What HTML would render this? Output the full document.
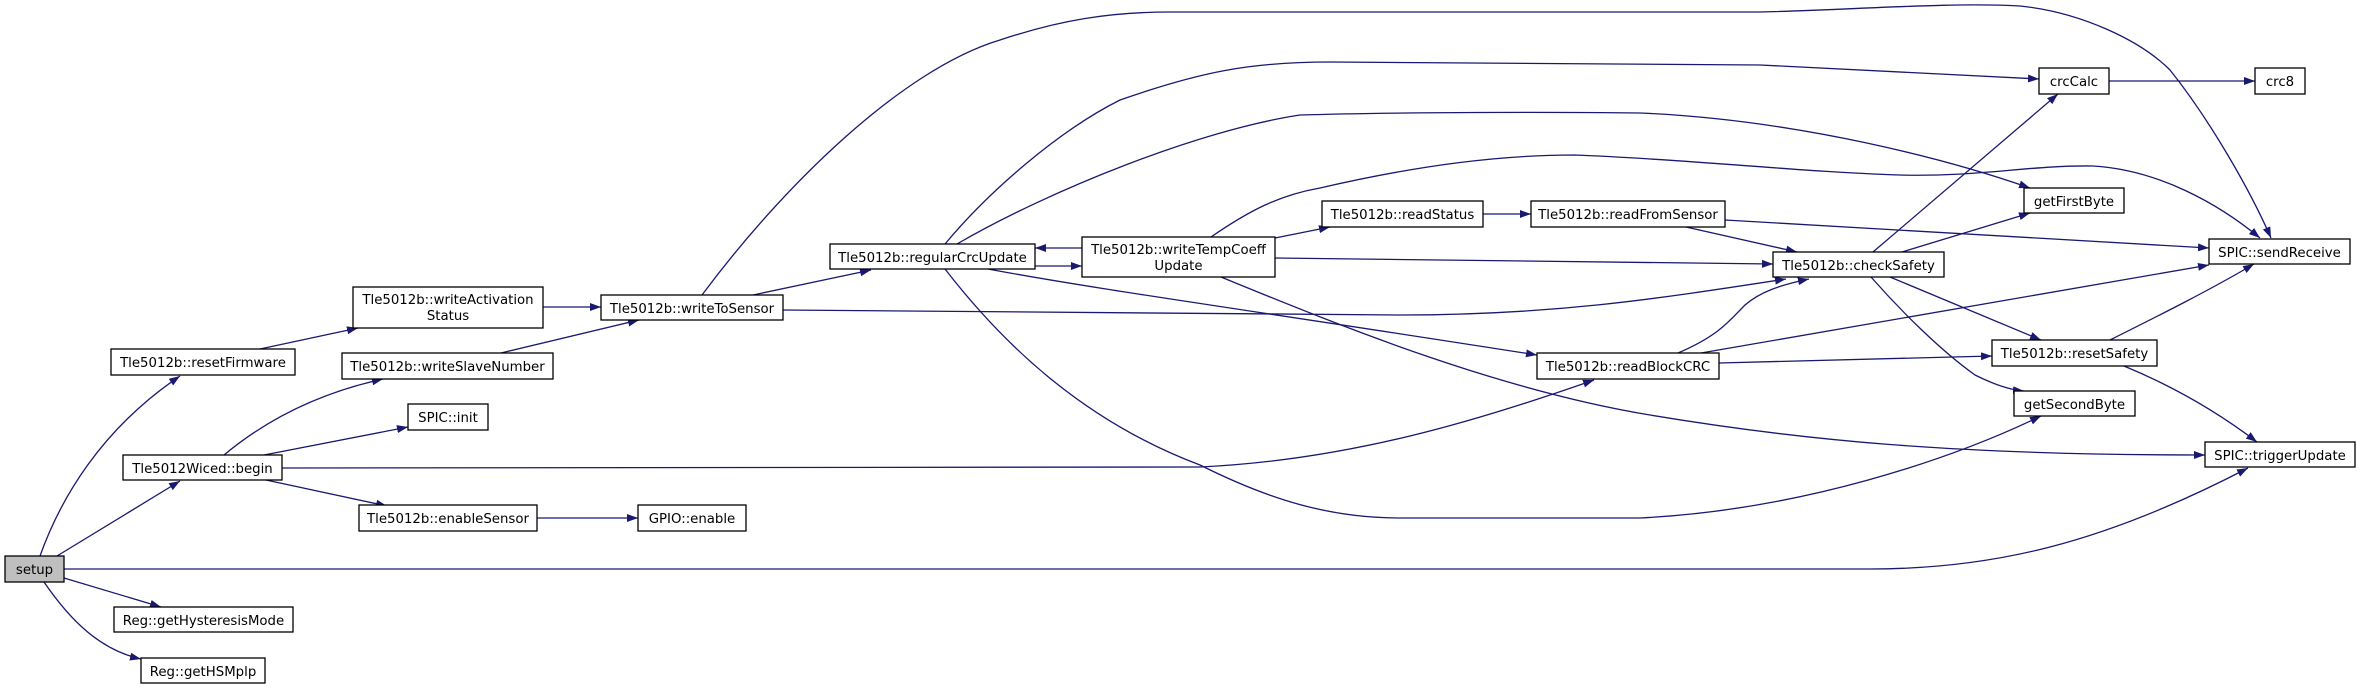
<!DOCTYPE html>
<html><head><meta charset="utf-8"><style>
html,body{margin:0;padding:0;background:#fff;}
svg{display:block}
text{font-family:"DejaVu Sans","Liberation Sans",sans-serif;font-size:13.3px;fill:#000;text-anchor:middle}
.e{fill:none;stroke:#191970;stroke-width:1.3;marker-end:url(#a)}
.n{fill:#fff;stroke:#000;stroke-width:1.3}
</style></head><body>
<svg width="2360" height="689" viewBox="0 0 2360 689" xmlns="http://www.w3.org/2000/svg">
<defs><marker id="a" markerUnits="userSpaceOnUse" markerWidth="11" markerHeight="8" refX="11" refY="4" orient="auto"><path d="M0,0 L11,4 L0,8 z" fill="#191970"/></marker></defs>
<g>
<path class="e" d="M40,556 C60,500 100,430 180,376"/>
<path class="e" d="M57,556 L180,481"/>
<path class="e" d="M64,569 L1870,569 C1990,569 2100,545 2248,468"/>
<path class="e" d="M64,578 L161,607"/>
<path class="e" d="M44,582 C70,620 100,650 141,659"/>
<path class="e" d="M260,349 L358,328"/>
<path class="e" d="M543,307 L601,307"/>
<path class="e" d="M501,353 L639,320"/>
<path class="e" d="M224,455 C260,425 310,395 383,379"/>
<path class="e" d="M264,455 L408,427"/>
<path class="e" d="M282,468 L1200,467 C1350,460 1480,420 1594,380"/>
<path class="e" d="M266,480 L387,506"/>
<path class="e" d="M537,518 L638,518"/>
<path class="e" d="M753,295 L871,270"/>
<path class="e" d="M702,295 C780,190 900,70 1000,40 C1060,20 1110,12 1170,12 L1760,12 C1850,10 1950,2 2020,6 C2080,12 2140,40 2170,70 C2210,120 2250,190 2271,238"/>
<path class="e" d="M783,310 L1400,315 C1550,315 1650,300 1786,279"/>
<path class="e" d="M1035,266 L1082,266"/>
<path class="e" d="M1082,248 L1035,248"/>
<path class="e" d="M945,244 C990,190 1060,130 1120,100 C1200,72 1250,62 1330,62 L1760,65 L2039,79"/>
<path class="e" d="M957,244 C1050,190 1200,130 1300,115 C1400,112 1560,112 1640,113 C1800,120 1950,160 2030,188"/>
<path class="e" d="M1211,237 C1250,210 1280,195 1320,188 C1420,165 1500,155 1575,155 C1700,160 1800,172 1900,175 C1980,177 2030,165 2093,166 C2160,170 2220,205 2260,238"/>
<path class="e" d="M1275,238 L1330,227"/>
<path class="e" d="M1275,258 L1773,264"/>
<path class="e" d="M1221,277 C1350,330 1500,390 1650,415 C1800,440 1950,455 2205,455"/>
<path class="e" d="M1483,214 L1531,214"/>
<path class="e" d="M1725,220 L2209,248"/>
<path class="e" d="M1686,227 L1797,252"/>
<path class="e" d="M988,269 C1100,290 1250,310 1537,355"/>
<path class="e" d="M945,269 C1000,340 1080,420 1200,465 C1270,500 1330,518 1400,518 L1640,518 C1800,510 1950,460 2041,416"/>
<path class="e" d="M1678,353 C1720,335 1730,320 1745,305 C1760,292 1780,285 1809,279"/>
<path class="e" d="M1701,353 L2209,265"/>
<path class="e" d="M1719,363 L1992,356"/>
<path class="e" d="M1873,252 L2058,94"/>
<path class="e" d="M1902,252 L2030,213"/>
<path class="e" d="M1890,277 L2041,340"/>
<path class="e" d="M1871,277 C1900,310 1940,350 1975,375 C1995,385 2010,390 2024,391"/>
<path class="e" d="M2110,340 C2160,315 2210,290 2254,264"/>
<path class="e" d="M2124,366 C2170,385 2215,410 2257,442"/>
<path class="e" d="M2109,81 L2255,81"/>
</g>
<g>
<rect x="5" y="556" width="59" height="26" style="fill:#bfbfbf;stroke:#000;stroke-width:1.3"/><text x="34.5" y="574">setup</text>
<rect class="n" x="111" y="349" width="184" height="26"/><text x="203" y="367">Tle5012b::resetFirmware</text>
<rect class="n" x="342" y="353" width="211" height="26"/><text x="447.5" y="371">Tle5012b::writeSlaveNumber</text>
<rect class="n" x="408" y="404" width="80" height="26"/><text x="448" y="422">SPIC::init</text>
<rect class="n" x="123" y="455" width="159" height="25"/><text x="202.5" y="473">Tle5012Wiced::begin</text>
<rect class="n" x="359" y="505" width="178" height="26"/><text x="448" y="523">Tle5012b::enableSensor</text>
<rect class="n" x="114" y="607" width="179" height="25"/><text x="203.5" y="625">Reg::getHysteresisMode</text>
<rect class="n" x="141" y="658" width="124" height="25"/><text x="203" y="676">Reg::getHSMplp</text>
<rect class="n" x="353" y="287" width="190" height="41"/><text x="448" y="304">Tle5012b::writeActivation</text><text x="448" y="320">Status</text>
<rect class="n" x="601" y="295" width="182" height="25"/><text x="692" y="313">Tle5012b::writeToSensor</text>
<rect class="n" x="638" y="505" width="108" height="26"/><text x="692" y="523">GPIO::enable</text>
<rect class="n" x="830" y="244" width="205" height="25"/><text x="932.5" y="262">Tle5012b::regularCrcUpdate</text>
<rect class="n" x="1082" y="237" width="193" height="40"/><text x="1178.5" y="254">Tle5012b::writeTempCoeff</text><text x="1178.5" y="270">Update</text>
<rect class="n" x="1322" y="201" width="161" height="26"/><text x="1402.5" y="219">Tle5012b::readStatus</text>
<rect class="n" x="1531" y="201" width="194" height="26"/><text x="1628" y="219">Tle5012b::readFromSensor</text>
<rect class="n" x="1773" y="252" width="171" height="25"/><text x="1858.5" y="270">Tle5012b::checkSafety</text>
<rect class="n" x="2039" y="68" width="70" height="26"/><text x="2074" y="86">crcCalc</text>
<rect class="n" x="2255" y="68" width="50" height="26"/><text x="2280" y="86">crc8</text>
<rect class="n" x="2024" y="188" width="100" height="25"/><text x="2074" y="206">getFirstByte</text>
<rect class="n" x="2209" y="239" width="141" height="25"/><text x="2279.5" y="257">SPIC::sendReceive</text>
<rect class="n" x="1537" y="353" width="182" height="26"/><text x="1628" y="371">Tle5012b::readBlockCRC</text>
<rect class="n" x="1992" y="340" width="165" height="26"/><text x="2074.5" y="358">Tle5012b::resetSafety</text>
<rect class="n" x="2014" y="391" width="121" height="25"/><text x="2074.5" y="409">getSecondByte</text>
<rect class="n" x="2205" y="442" width="150" height="25"/><text x="2280" y="460">SPIC::triggerUpdate</text>
</g>
</svg>
</body></html>
